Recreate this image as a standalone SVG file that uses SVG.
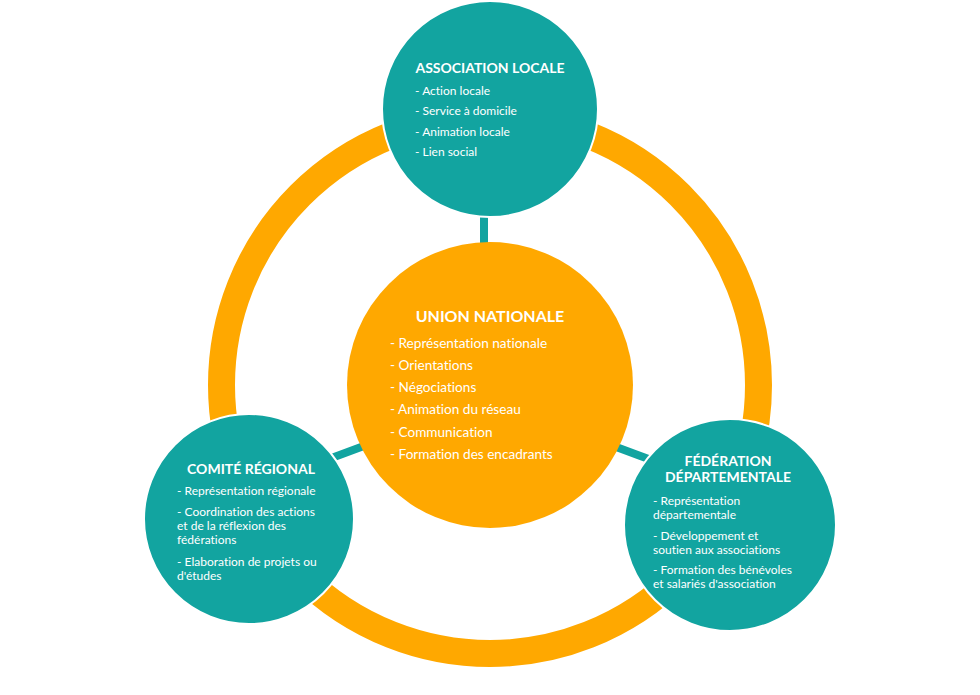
<svg xmlns="http://www.w3.org/2000/svg" width="980" height="695" viewBox="0 0 980 695">
<style>
.t{font-family:Lato,"Open Sans","Liberation Sans",sans-serif;fill:#ffffff;font-variant-ligatures:no-common-ligatures}
.h{font-weight:bold;text-anchor:middle}
.teal{fill:#12A4A0;stroke:#ffffff;stroke-width:2}
.orange{fill:#FFA800}
.conn{stroke:#12A4A0;stroke-width:8;fill:none}
</style>
<rect width="980" height="695" fill="#ffffff"/>
<g id="ring">
<circle cx="490" cy="385" r="268.5" fill="none" stroke="#FFA800" stroke-width="27"/>
</g>
<g id="connectors">
<line class="conn" x1="484" y1="200" x2="484" y2="262"/>
<line class="conn" x1="318" y1="463" x2="380" y2="440"/>
<line class="conn" x1="600" y1="441" x2="662" y2="464"/>
</g>
<g id="union-nationale">
<circle class="orange" cx="490" cy="385" r="143"/>
<text class="t h" x="490" y="322" font-size="16">UNION NATIONALE</text>
<g class="t" font-size="13.6">
<text x="390" y="348">- Représentation nationale</text>
<text x="390" y="370">- Orientations</text>
<text x="390" y="392">- Négociations</text>
<text x="390" y="414">- Animation du réseau</text>
<text x="390" y="437">- Communication</text>
<text x="390" y="459">- Formation des encadrants</text>
</g>
</g>
<g id="association-locale">
<circle class="teal" cx="490" cy="109" r="108"/>
<text class="t h" x="490" y="73" font-size="14">ASSOCIATION LOCALE</text>
<g class="t" font-size="12">
<text x="415" y="95">- Action locale</text>
<text x="415" y="115">- Service à domicile</text>
<text x="415" y="136">- Animation locale</text>
<text x="415" y="156">- Lien social</text>
</g>
</g>
<g id="comite-regional">
<circle class="teal" cx="249" cy="519" r="105"/>
<text class="t h" x="251" y="474" font-size="14">COMITÉ RÉGIONAL</text>
<g class="t" font-size="12">
<text x="177" y="495">- Représentation régionale</text>
<text x="177" y="516">- Coordination des actions</text>
<text x="177" y="530">et de la réflexion des</text>
<text x="177" y="544">fédérations</text>
<text x="177" y="566">- Elaboration de projets ou</text>
<text x="177" y="580">d'études</text>
</g>
</g>
<g id="federation-departementale">
<circle class="teal" cx="730" cy="525" r="106"/>
<text class="t h" x="728" y="466" font-size="14">FÉDÉRATION</text>
<text class="t h" x="728" y="482" font-size="14">DÉPARTEMENTALE</text>
<g class="t" font-size="12">
<text x="653" y="505">- Représentation</text>
<text x="653" y="519">départementale</text>
<text x="653" y="540">- Développement et</text>
<text x="653" y="554">soutien aux associations</text>
<text x="653" y="574">- Formation des bénévoles</text>
<text x="653" y="588">et salariés d'association</text>
</g>
</g>
</svg>
